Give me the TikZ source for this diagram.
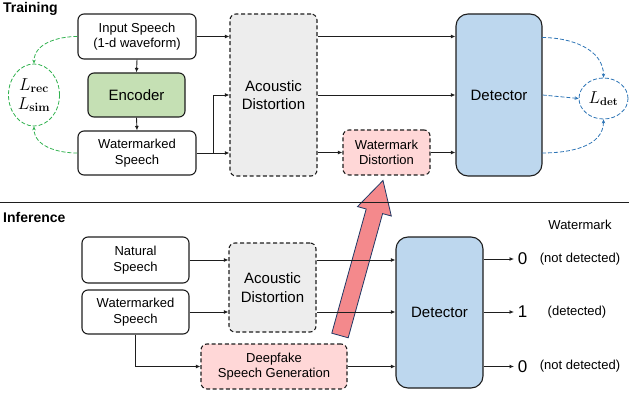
\documentclass[tikz,border=0pt]{standalone}
\usepackage[no-math]{fontspec}
\setmainfont{Liberation Sans}
\usetikzlibrary{arrows.meta,shapes.geometric,calc}
\definecolor{encgreen}{RGB}{197,224,180}
\definecolor{detblue}{RGB}{189,215,238}
\definecolor{adgray}{RGB}{237,237,237}
\definecolor{wpink}{RGB}{255,215,215}
\definecolor{lossgreen}{RGB}{50,178,80}
\definecolor{lossblue}{RGB}{46,117,182}
\definecolor{bigarrow}{RGB}{244,137,140}
\definecolor{arrowedge}{RGB}{32,56,100}
\definecolor{edgec}{RGB}{30,30,30}
\tikzset{
  box/.style={draw=edgec, line width=1.1pt, rounded corners=6pt, inner sep=0pt, align=center, font=\fontsize{13}{15.5}\selectfont},
  dbox/.style={box, dash pattern=on 4pt off 2.6pt},
  bigfont/.style={font=\fontsize{15}{18.5}\selectfont},
  conn/.style={draw=edgec, line width=0.9pt, -{Latex[length=4.5pt,width=4pt]}},
  lossg/.style={draw=lossgreen, line width=0.8pt, dash pattern=on 4pt off 2pt, -{Stealth[length=4pt,width=3.5pt]}},
  lossb/.style={draw=lossblue, line width=0.8pt, dash pattern=on 4pt off 2pt, -{Stealth[length=4pt,width=3.5pt]}},
  lbl/.style={inner sep=0pt, font=\fontsize{13}{15.5}\selectfont},
  title/.style={inner sep=0pt, anchor=west, font=\fontsize{14}{16}\selectfont\bfseries},
}
\begin{document}
\begin{tikzpicture}[x=1pt,y=-1pt]
\useasboundingbox (0,0) rectangle (629,398);

% big pink arrow (behind)
\filldraw[fill=bigarrow, draw=arrowedge, line width=0.8pt, line join=miter]
  (331.8,333.2) -- (366.2,209.0) -- (357.5,206.6) -- (383.0,180.5) -- (391.3,216.0) -- (382.6,213.6) -- (348.2,337.8) -- cycle;

% titles and separator
\node[title] (ttrain) at (3,9) {Training};
\node[title] (tinf) at (3,217) {Inference};
\draw[draw=edgec, line width=0.9pt] (0,202) -- (629,202);

% ---------------- Training ----------------
\node[box, minimum width=118pt, minimum height=45pt] (in) at (137,36.5) {Input Speech\\(1-d waveform)};
\node[box, fill=encgreen, bigfont, minimum width=97pt, minimum height=44pt] (enc) at (136.5,95) {Encoder};
\node[box, minimum width=118pt, minimum height=44pt] (wm) at (137,153) {Watermarked\\Speech};
\node[dbox, fill=adgray, bigfont, minimum width=87pt, minimum height=162pt] (ad) at (273.5,95) {Acoustic\\Distortion};
\node[box, fill=detblue, bigfont, rounded corners=12pt, minimum width=86pt, minimum height=162pt] (det) at (499,95) {Detector};
\node[dbox, fill=wpink, minimum width=87pt, minimum height=45pt] (wd) at (386.5,152.5) {Watermark\\Distortion};
\node[ellipse, draw=lossgreen, line width=0.8pt, dash pattern=on 4pt off 2pt, inner sep=0pt, minimum width=51pt, minimum height=62pt, align=center, font=\fontsize{16.5}{19}\selectfont] (lrs) at (34,95) {$L_{\mathbf{rec}}$\\$L_{\mathbf{sim}}$};
\node[ellipse, draw=lossblue, line width=0.8pt, dash pattern=on 4pt off 2pt, inner sep=0pt, minimum width=49pt, minimum height=41pt, font=\fontsize{16}{19}\selectfont] (ldet) at (603.5,98.5) {$L_{\mathbf{det}}$};

\coordinate (br) at (213,153);
\coordinate (dtop) at (542,37.5);
\coordinate (dbot) at (542,153);

\draw[conn] (in.east) -- (in.east -| ad.west);
\draw[conn] (in.south) -- (enc.north);
\draw[conn] (enc.south) -- (wm.north);
\draw[conn] (wm.east) -- (wm.east -| ad.west);
\draw[conn] (br) |- (ad.west);
\draw[conn] (ad.east |- in.east) -- (det.west |- in.east);
\draw[conn] (ad.east) -- (det.west);
\draw[conn] (ad.east |- wd.west) -- (wd.west);
\draw[conn] (wd.east) -- (det.west |- wd.east);

\draw[lossg] (in.west) to[out=180, in=90] (lrs.north);
\draw[lossg] (wm.west) to[out=180, in=-90] (lrs.south);
\draw[lossb] (dtop) to[out=0, in=90] (ldet.north);
\draw[lossb] (det.east) -- (ldet.west);
\draw[lossb] (dbot) to[out=0, in=-90] (ldet.south);

% ---------------- Inference ----------------
\node[box, minimum width=107pt, minimum height=46pt] (ns) at (135.5,260) {Natural\\Speech};
\node[box, minimum width=107pt, minimum height=44pt] (wm2) at (135.5,312) {Watermarked\\Speech};
\node[dbox, fill=adgray, bigfont, minimum width=87pt, minimum height=89pt] (ad2) at (272.5,287.5) {Acoustic\\Distortion};
\node[dbox, fill=wpink, minimum width=146pt, minimum height=45pt] (df) at (274,366.5) {Deepfake\\Speech Generation};
\node[box, fill=detblue, bigfont, rounded corners=12pt, minimum width=87pt, minimum height=151pt] (det2) at (439.5,312.5) {Detector};

\draw[conn] (ns.east) -- (ns.east -| ad2.west);
\draw[conn] (wm2.east) -- (wm2.east -| ad2.west);
\draw[conn] (ad2.east |- ns.east) -- (det2.west |- ns.east);
\draw[conn] (ad2.east |- wm2.east) -- (det2.west |- wm2.east);
\draw[conn] (wm2.south) |- (df.west);
\draw[conn] (df.east) -- (det2.west |- df.east);

\coordinate (o1) at (514,259);
\coordinate (o2) at (514,312);
\coordinate (o3) at (514,366.5);
\draw[conn] (det2.east |- o1) -- (o1);
\draw[conn] (det2.east |- o2) -- (o2);
\draw[conn] (det2.east |- o3) -- (o3);

\node[lbl, font=\fontsize{17}{20}\selectfont] (v1) at (522.5,259) {0};
\node[lbl, font=\fontsize{17}{20}\selectfont] (v2) at (522.5,312) {1};
\node[lbl, font=\fontsize{17}{20}\selectfont] (v3) at (522.5,366.5) {0};
\node[lbl] (l1) at (580,259) {(not detected)};
\node[lbl] (l2) at (577,312) {(detected)};
\node[lbl] (l3) at (580,366.5) {(not detected)};
\node[lbl] (wmk) at (580,225) {Watermark};
\end{tikzpicture}
\end{document}
